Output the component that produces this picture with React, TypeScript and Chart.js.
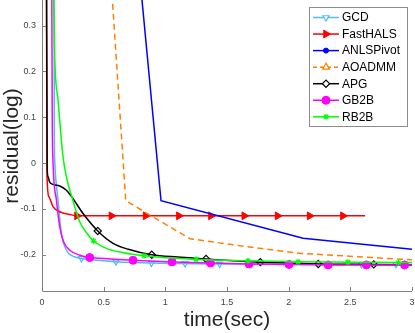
import React, { useEffect, useRef } from "react";
import { Chart, registerables } from "chart.js";
import { drawPoint } from "chart.js/helpers";

Chart.register(...registerables);

// ---------- data ----------
const xTicks = [0, 0.5, 1, 1.5, 2, 2.5, 3];
const xTickLabels = ["0", "0.5", "1", "1.5", "2", "2.5", "3"];
const yTicks = [-0.2, -0.1, 0, 0.1, 0.2, 0.3];
const yTickLabels = ["-0.2", "-0.1", "0", "0.1", "0.2", "0.3"];

const seriesNames = ["GCD", "FastHALS", "ANLSPivot", "AOADMM", "APG", "GB2B", "RB2B"];

const gcdTime = [0.097, 0.1, 0.103, 0.13, 0.157, 0.198, 0.25, 0.32, 0.45, 0.6, 0.887, 1.16, 1.44, 1.7, 2.0, 2.3, 2.59, 2.87, 3.0];
const gcdResidual = [0.5, 0.06, 0.007, -0.081, -0.153, -0.19, -0.203, -0.208, -0.212, -0.215, -0.218, -0.219, -0.22, -0.22, -0.221, -0.221, -0.221, -0.221, -0.221];
const gcdMarkers = [0.32, 0.6, 0.887, 1.16, 1.44, 2.59, 2.87];

const halsTime = [0.035, 0.041, 0.057, 0.089, 0.144, 0.225, 0.284, 0.563, 0.84, 1.11, 1.37, 1.64, 1.91, 2.17, 2.44, 2.62];
const halsResidual = [0.5, -0.03, -0.074, -0.095, -0.106, -0.112, -0.115, -0.115, -0.115, -0.115, -0.115, -0.115, -0.115, -0.115, -0.115, -0.115];
const halsMarkers = [0.284, 0.563, 0.84, 1.11, 1.37, 1.64, 1.91, 2.17, 2.44];

const anlsTime = [0.76, 0.965, 2.117, 3.0];
const anlsResidual = [0.5, -0.082, -0.164, -0.188];
const anlsMarkers: number[] = [];

const aoadmmTime = [0.535, 0.679, 1.2, 1.6, 2.1, 3.0];
const aoadmmResidual = [0.5, -0.082, -0.165, -0.18, -0.197, -0.211];
const aoadmmMarkers: number[] = [];

const apgTime = [0.036, 0.042, 0.05, 0.06, 0.084, 0.144, 0.198, 0.25, 0.333, 0.452, 0.576, 0.7, 0.89, 1.1, 1.33, 1.55, 1.77, 2.0, 2.24, 2.69, 3.0];
const apgResidual = [0.5, -0.012, -0.03, -0.04, -0.046, -0.05, -0.059, -0.077, -0.11, -0.148, -0.175, -0.188, -0.2, -0.205, -0.209, -0.213, -0.216, -0.218, -0.22, -0.221, -0.222];
const apgMarkers = [0.452, 0.89, 1.33, 1.77, 2.24, 2.69];

const gb2bTime = [0.078, 0.083, 0.089, 0.117, 0.144, 0.176, 0.225, 0.306, 0.387, 0.55, 0.738, 1.054, 1.366, 1.679, 2.003, 2.32, 2.63, 2.94, 3.0];
const gb2bResidual = [0.5, 0.1, 0.007, -0.081, -0.139, -0.172, -0.19, -0.201, -0.206, -0.209, -0.212, -0.2155, -0.218, -0.22, -0.221, -0.222, -0.222, -0.222, -0.222];
const gb2bMarkers = [0.387, 0.738, 1.054, 1.366, 1.679, 2.003, 2.32, 2.63, 2.94];

const rb2bTime = [0.092, 0.095, 0.103, 0.13, 0.17, 0.198, 0.25, 0.306, 0.35, 0.419, 0.522, 0.65, 0.827, 1.25, 1.67, 2.076, 2.48, 2.89, 3.0];
const rb2bResidual = [0.45, 0.356, 0.232, 0.138, 0.015, -0.03, -0.081, -0.128, -0.148, -0.17, -0.186, -0.195, -0.202, -0.21, -0.213, -0.215, -0.216, -0.217, -0.217];
const rb2bMarkers = [0.419, 0.827, 1.25, 1.67, 2.076, 2.48, 2.89];

const seriesTimes = [gcdTime, halsTime, anlsTime, aoadmmTime, apgTime, gb2bTime, rb2bTime];
const seriesValues = [gcdResidual, halsResidual, anlsResidual, aoadmmResidual, apgResidual, gb2bResidual, rb2bResidual];
const seriesMarkers = [gcdMarkers, halsMarkers, anlsMarkers, aoadmmMarkers, apgMarkers, gb2bMarkers, rb2bMarkers];

// ---------- styles ----------
const FONT = "'Liberation Sans', Arial, Helvetica, sans-serif";
const AXIS_COLOR = "#808080";
const TICK_COLOR = "#444444";

type Sty = {
  color: string;
  pointStyle: any;
  rotation: number;
  radius: number;
  filled: boolean;
  dash: number[];
  smooth: boolean;
  pbw: number;
};

const styles: Sty[] = [
  { color: "#4DBEEE", pointStyle: "triangle", rotation: 180, radius: 3.5, filled: false, dash: [], smooth: true, pbw: 1.2 },
  { color: "#FF0000", pointStyle: "triangle", rotation: 90, radius: 4.5, filled: true, dash: [], smooth: true, pbw: 1 },
  { color: "#0000FF", pointStyle: "circle", rotation: 0, radius: 2.5, filled: true, dash: [], smooth: false, pbw: 1 },
  { color: "#FF8000", pointStyle: "triangle", rotation: 0, radius: 4, filled: false, dash: [6, 4], smooth: false, pbw: 1.2 },
  { color: "#000000", pointStyle: "rectRot", rotation: 0, radius: 3.6, filled: false, dash: [], smooth: true, pbw: 1.2 },
  { color: "#FF00FF", pointStyle: "circle", rotation: 0, radius: 4, filled: true, dash: [], smooth: true, pbw: 1 },
  { color: "#00FF00", pointStyle: "star", rotation: 0, radius: 3, filled: false, dash: [], smooth: true, pbw: 1.2 },
];

const decorPlugin = {
  id: "decor",
  afterDraw(chart: any) {
    const ctx: CanvasRenderingContext2D = chart.ctx;
    const { left, right, top, bottom } = chart.chartArea;
    const xs = chart.scales.x;
    const ys = chart.scales.y;
    ctx.save();
    // axes
    ctx.strokeStyle = AXIS_COLOR;
    ctx.lineWidth = 1;
    ctx.beginPath();
    ctx.moveTo(Math.round(left) + 0.5, top);
    ctx.lineTo(Math.round(left) + 0.5, Math.round(bottom) + 0.5);
    ctx.lineTo(right, Math.round(bottom) + 0.5);
    ctx.stroke();
    // inward ticks
    ctx.beginPath();
    for (const v of yTicks) {
      const py = Math.round(ys.getPixelForValue(v)) + 0.5;
      ctx.moveTo(Math.round(left), py);
      ctx.lineTo(Math.round(left) + 4, py);
    }
    for (const v of xTicks) {
      const px = Math.round(xs.getPixelForValue(v)) + 0.5;
      ctx.moveTo(px, Math.round(bottom));
      ctx.lineTo(px, Math.round(bottom) - 4);
    }
    ctx.stroke();

    // axis titles
    ctx.fillStyle = "#262626";
    ctx.font = `21px ${FONT}`;
    ctx.textAlign = "center";
    ctx.textBaseline = "alphabetic";
    ctx.fillText("time(sec)", (left + right) / 2, 326);
    ctx.save();
    ctx.translate(18, 146);
    ctx.rotate(-Math.PI / 2);
    ctx.fillText("residual(log)", 0, 0);
    ctx.restore();

    // legend
    const bx = 309.5, by = 7.5, bw = 98, bh = 119;
    ctx.fillStyle = "#FFFFFF";
    ctx.fillRect(bx, by, bw, bh);
    ctx.strokeStyle = "#8C8C8C";
    ctx.lineWidth = 1;
    ctx.strokeRect(bx, by, bw, bh);
    ctx.font = `12px ${FONT}`;
    ctx.textAlign = "left";
    ctx.textBaseline = "middle";
    seriesNames.forEach((name, i) => {
      const s = styles[i];
      const y = 17.5 + i * 16.55;
      ctx.strokeStyle = s.color;
      ctx.lineWidth = 1.5;
      ctx.setLineDash(s.dash.length ? [4, 3] : []);
      ctx.beginPath();
      ctx.moveTo(313, y);
      ctx.lineTo(339, y);
      ctx.stroke();
      ctx.setLineDash([]);
      ctx.fillStyle = s.filled ? s.color : "#FFFFFF";
      ctx.strokeStyle = s.color;
      ctx.lineWidth = s.pbw;
      drawPoint(ctx, { pointStyle: s.pointStyle, rotation: s.rotation, radius: s.radius, borderWidth: s.pbw }, 326, y);
      ctx.fillStyle = "#000000";
      ctx.fillText(name, 342, y + 0.5);
    });
    ctx.restore();
  },
};

export default function App() {
  const ref = useRef<HTMLCanvasElement | null>(null);
  useEffect(() => {
    if (!ref.current) return;
    const datasets = seriesNames.map((name, i) => {
      const s = styles[i];
      const t = seriesTimes[i];
      const v = seriesValues[i];
      const m = seriesMarkers[i];
      return {
        label: name,
        data: t.map((x, j) => ({ x, y: v[j] })),
        borderColor: s.color,
        backgroundColor: s.filled ? s.color : "rgba(0,0,0,0)",
        borderWidth: 1.5,
        borderDash: s.dash,
        pointStyle: s.pointStyle,
        rotation: s.rotation,
        pointRadius: t.map((x) => (m.includes(x) ? s.radius : 0)),
        pointBorderColor: s.color,
        pointBackgroundColor: s.filled ? s.color : "rgba(0,0,0,0)",
        pointBorderWidth: s.pbw,
        cubicInterpolationMode: s.smooth ? "monotone" : "default",
        tension: 0,
        order: -i,
        fill: false,
      };
    });
    const chart = new Chart(ref.current, {
      type: "line",
      data: { datasets } as any,
      options: {
        animation: false,
        responsive: false,
        maintainAspectRatio: false,
        devicePixelRatio: 1,
        events: [],
        layout: { padding: { left: 0, right: 3, top: 0, bottom: 0 } },
        plugins: { legend: { display: false }, tooltip: { enabled: false } },
        scales: {
          x: {
            type: "linear",
            min: 0,
            max: 3,
            grid: { display: false, drawTicks: false },
            border: { display: false },
            afterBuildTicks: (s: any) => {
              s.ticks = xTicks.map((value) => ({ value }));
            },
            afterFit: (s: any) => {
              s.height = 42;
              s.paddingLeft = 0;
              s.paddingRight = 0;
            },
            ticks: {
              padding: 6,
              color: TICK_COLOR,
              font: { family: FONT, size: 9 },
              maxRotation: 0,
              autoSkip: false,
              callback: (value: any) => xTickLabels[xTicks.indexOf(Number(value))] ?? "",
            },
          },
          y: {
            type: "linear",
            min: -0.279,
            max: 0.356,
            grid: { display: false, drawTicks: false },
            border: { display: false },
            afterBuildTicks: (s: any) => {
              s.ticks = yTicks.map((value) => ({ value }));
            },
            afterFit: (s: any) => {
              s.width = 42;
              s.paddingTop = 0;
              s.paddingBottom = 0;
            },
            ticks: {
              padding: 6,
              color: TICK_COLOR,
              font: { family: FONT, size: 9 },
              autoSkip: false,
              callback: (value: any) => yTickLabels[yTicks.indexOf(Number(value))] ?? "",
            },
          },
        },
      } as any,
      plugins: [decorPlugin],
    });
    return () => chart.destroy();
  }, []);
  return (
    <div style={{ position: "fixed", left: 0, top: 0, width: 415, height: 333, background: "#fff" }}>
      <canvas ref={ref} width={415} height={333} style={{ display: "block" }} />
    </div>
  );
}
